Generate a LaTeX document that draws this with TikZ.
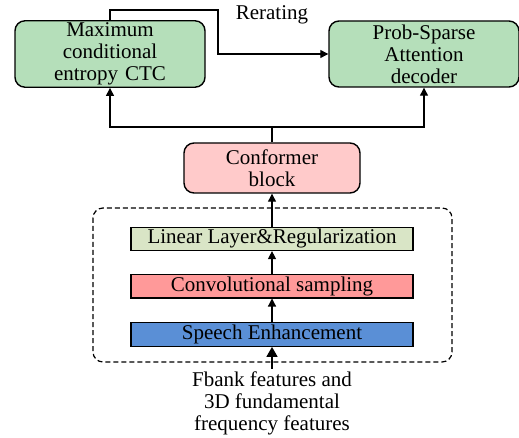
\documentclass[tikz,border=0pt]{standalone}
\usepackage{fontspec}
\setmainfont{Liberation Serif}
\usepackage{xcolor}
\usetikzlibrary{arrows.meta, positioning}
\definecolor{outgreen}{HTML}{B5DFBA}
\definecolor{confpink}{HTML}{FFCACA}
\definecolor{lingreen}{HTML}{D9E5C6}
\definecolor{convred}{HTML}{FF9999}
\definecolor{enhblue}{HTML}{5A8FD6}
\tikzset{
  outbox/.style={rectangle, draw, line width=0.7pt, rounded corners=5pt,
                 fill=outgreen, align=center, text width=90pt,
                 minimum width=95pt, minimum height=33pt, inner sep=1pt},
  confbox/.style={rectangle, draw, line width=0.7pt, rounded corners=5pt,
                  fill=confpink, align=center, text width=84pt,
                  minimum width=88pt, minimum height=25pt, inner sep=1pt},
  layer/.style={rectangle, draw, line width=0.7pt, minimum width=141pt,
                minimum height=11.5pt, inner sep=0pt, text centered},
  arrow/.style={-{Triangle[length=4pt, width=4pt]}, line width=0.6pt},
  bigarrow/.style={-{Triangle[length=5pt, width=5.5pt]}, line width=0.8pt},
}

\begin{document}
\begin{tikzpicture}[x=0.5pt, y=-0.5pt,
    font=\fontsize{10.5}{11}\selectfont]
  \useasboundingbox (0,0) rectangle (519,438);

  % Output branches
  \node[outbox] (maxent) at (110,54) {Maximum\\conditional\\entropy CTC};
  \node[outbox] (decoder) at (424,54) {Prob-Sparse\\Attention\\decoder};
  \node (rerate) at (272,15) {Rerating};

  \coordinate (rr) at (218,10);
  \draw[arrow] (maxent.north) |- (rr) |- (decoder.west);

  % Encoder
  \node[confbox] (conformer) at (272,168) {Conformer\\block};

  \coordinate (split) at (272,127);
  \draw[line width=0.6pt] (conformer.north) -- (split);
  \draw[arrow] (split) -| (maxent.south);
  \draw[arrow] (split) -| (decoder.south);

  % Front-end layers
  \node[layer, fill=lingreen, below=16.5pt of conformer] (linear)
    {Linear Layer\&Regularization};
  \node[layer, fill=convred, below=11.5pt of linear] (conv)
    {Convolutional sampling};
  \node[layer, fill=enhblue, minimum height=12pt, below=11.5pt of conv] (enhance)
    {Speech Enhancement};

  \draw[dash pattern=on 2.5pt off 1.5pt, line width=0.6pt, rounded corners=5pt]
    (93,208) rectangle (452,362);

  \draw[arrow] (linear.north) -- (conformer.south);
  \draw[arrow] (conv.north) -- (linear.south);
  \draw[arrow] (enhance.north) -- (conv.south);

  % Input
  \node[align=center, inner sep=1pt] (input) at (272,403)
    {Fbank features and\\3D fundamental\\frequency features};
  \draw[bigarrow] (input.north) -- (enhance.south);
\end{tikzpicture}
\end{document}
